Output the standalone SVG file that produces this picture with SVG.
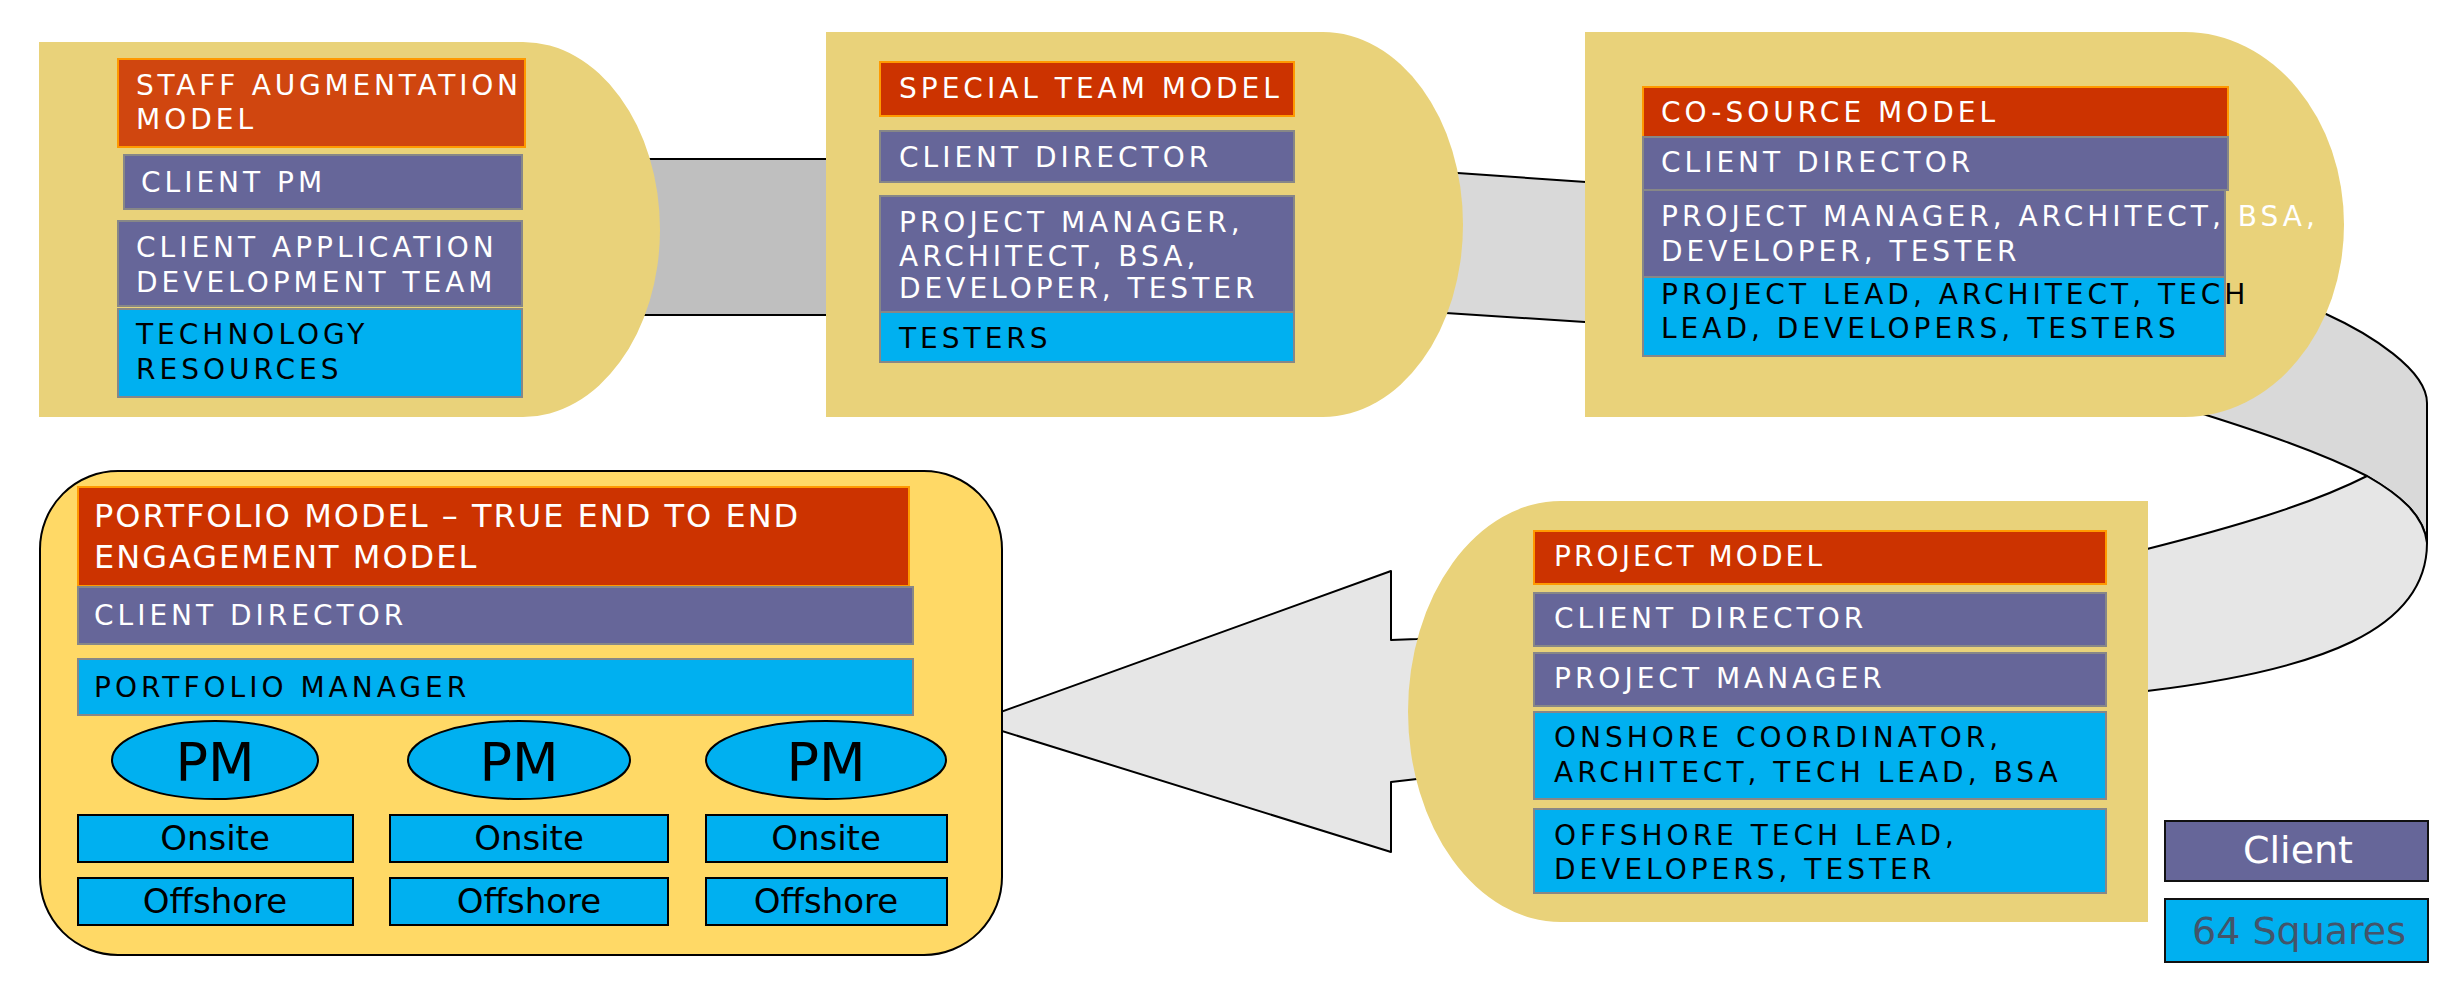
<svg xmlns="http://www.w3.org/2000/svg" width="2459" height="998" viewBox="0 0 2459 998">
<style>
.bg{fill:#E9D27A}
.red{fill:#CC3300;stroke:#FF9900;stroke-width:2}
.red1{fill:#D0460F;stroke:#FF9900;stroke-width:2}
.pur{fill:#666699;stroke:#878787;stroke-width:2}
.blu{fill:#00B0F0;stroke:#878787;stroke-width:2}
.bk{fill:#00B0F0;stroke:#000;stroke-width:2}
.band{stroke:#000;stroke-width:2;stroke-linejoin:round}
.t{font-family:"DejaVu Sans",Verdana,sans-serif;font-size:28px;letter-spacing:4px}
.w{fill:#FFFFFF}
.k{fill:#000000}
.c{font-family:"DejaVu Sans",Verdana,sans-serif;text-anchor:middle;fill:#000}
</style>
<rect width="2459" height="998" fill="#FFFFFF"/>
<g id="connectors">
<path class="band" fill="#BFBFBF" d="M600 159 H870 V315 H600 Z"/>
<path class="band" fill="#D9D9D9" d="M1400 169 L1586 182 C1900 200 2200 240 2326 314 C2370 334 2427 370 2427 403 L2427 543 C2424 515 2400 495 2367 476 C2320 452 2260 432 2203 414 L1600 323 L1400 310 Z"/>
<path class="band" fill="#E6E6E6" d="M2367 476 C2400 495 2424 515 2427 543 C2427 630 2320 670 2147 691 L1417 779 L1391 782 L1391 852 L973 722 L1391 571 L1391 640 L1417 639 L2147 549 C2230 528 2310 505 2367 476 Z"/>
</g>
<g id="staff-augmentation">
<path class="bg" d="M39 42 H523 A137 187.5 0 0 1 523 417 H39 Z"/>
<rect class="red1" x="118" y="59" width="407" height="88"/>
<text class="t w" x="136" y="95" textLength="386" lengthAdjust="spacing">STAFF AUGMENTATION</text>
<text class="t w" x="136" y="129">MODEL</text>
<rect class="pur" x="124" y="155" width="398" height="54"/>
<text class="t w" x="141" y="192">CLIENT PM</text>
<rect class="pur" x="118" y="221" width="404" height="85"/>
<text class="t w" x="136" y="257">CLIENT APPLICATION</text>
<text class="t w" x="136" y="292">DEVELOPMENT TEAM</text>
<rect class="blu" x="118" y="309" width="404" height="88"/>
<text class="t k" x="136" y="344">TECHNOLOGY</text>
<text class="t k" x="136" y="379">RESOURCES</text>
</g>
<g id="special-team">
<path class="bg" d="M826 32 H1323 A140 192.5 0 0 1 1323 417 H826 Z"/>
<rect class="red" x="880" y="62" width="414" height="54"/>
<text class="t w" x="899" y="98">SPECIAL TEAM MODEL</text>
<rect class="pur" x="880" y="131" width="414" height="51"/>
<text class="t w" x="899" y="167">CLIENT DIRECTOR</text>
<rect class="pur" x="880" y="196" width="414" height="116"/>
<text class="t w" x="899" y="232">PROJECT MANAGER,</text>
<text class="t w" x="899" y="266">ARCHITECT, BSA,</text>
<text class="t w" x="899" y="298">DEVELOPER, TESTER</text>
<rect class="blu" x="880" y="312" width="414" height="50"/>
<text class="t k" x="899" y="348">TESTERS</text>
</g>
<g id="co-source">
<path class="bg" d="M1585 32 H2185 A159 192.5 0 0 1 2185 417 H1585 Z"/>
<rect class="red" x="1643" y="87" width="585" height="50"/>
<text class="t w" x="1661" y="122">CO-SOURCE MODEL</text>
<rect class="pur" x="1643" y="137" width="585" height="53"/>
<text class="t w" x="1661" y="172">CLIENT DIRECTOR</text>
<rect class="pur" x="1643" y="190" width="582" height="87"/>
<text class="t w" x="1661" y="226">PROJECT MANAGER, ARCHITECT, BSA,</text>
<text class="t w" x="1661" y="261">DEVELOPER, TESTER</text>
<rect class="blu" x="1643" y="277" width="582" height="79"/>
<text class="t k" x="1661" y="304">PROJECT LEAD, ARCHITECT, TECH</text>
<text class="t k" x="1661" y="338">LEAD, DEVELOPERS, TESTERS</text>
</g>
<g id="project-model">
<path class="bg" d="M2148 501 H1561 A153 210.5 0 0 0 1561 922 H2148 Z"/>
<rect class="red" x="1534" y="531" width="572" height="53"/>
<text class="t w" x="1554" y="566" textLength="272" lengthAdjust="spacing">PROJECT MODEL</text>
<rect class="pur" x="1534" y="593" width="572" height="53"/>
<text class="t w" x="1554" y="628">CLIENT DIRECTOR</text>
<rect class="pur" x="1534" y="653" width="572" height="53"/>
<text class="t w" x="1554" y="688">PROJECT MANAGER</text>
<rect class="blu" x="1534" y="712" width="572" height="87"/>
<text class="t k" x="1554" y="747">ONSHORE COORDINATOR,</text>
<text class="t k" x="1554" y="782">ARCHITECT, TECH LEAD, BSA</text>
<rect class="blu" x="1534" y="809" width="572" height="84"/>
<text class="t k" x="1554" y="845">OFFSHORE TECH LEAD,</text>
<text class="t k" x="1554" y="879">DEVELOPERS, TESTER</text>
</g>
<g id="portfolio-model">
<rect x="40" y="471" width="962" height="484" rx="78" ry="78" fill="#FFD966" stroke="#000" stroke-width="2"/>
<rect class="red" x="78" y="487" width="831" height="99"/>
<text class="w" font-family="DejaVu Sans,Verdana,sans-serif" font-size="32" letter-spacing="2" x="94" y="527">PORTFOLIO MODEL – TRUE END TO END</text>
<text class="w" font-family="DejaVu Sans,Verdana,sans-serif" font-size="32" letter-spacing="2" x="94" y="568">ENGAGEMENT MODEL</text>
<rect class="pur" x="78" y="587" width="835" height="57"/>
<text class="t w" x="94" y="625">CLIENT DIRECTOR</text>
<rect class="blu" x="78" y="659" width="835" height="56"/>
<text class="t k" x="94" y="697">PORTFOLIO MANAGER</text>
<ellipse class="bk" cx="215" cy="760" rx="103" ry="39"/>
<ellipse class="bk" cx="519" cy="760" rx="111" ry="39"/>
<ellipse class="bk" cx="826" cy="760" rx="120" ry="39"/>
<text class="c" font-size="54" x="215" y="781">PM</text>
<text class="c" font-size="54" x="519" y="781">PM</text>
<text class="c" font-size="54" x="826" y="781">PM</text>
<rect class="bk" x="78" y="815" width="275" height="47"/>
<rect class="bk" x="390" y="815" width="278" height="47"/>
<rect class="bk" x="706" y="815" width="241" height="47"/>
<text class="c" font-size="34" x="215" y="850">Onsite</text>
<text class="c" font-size="34" x="529" y="850">Onsite</text>
<text class="c" font-size="34" x="826" y="850">Onsite</text>
<rect class="bk" x="78" y="878" width="275" height="47"/>
<rect class="bk" x="390" y="878" width="278" height="47"/>
<rect class="bk" x="706" y="878" width="241" height="47"/>
<text class="c" font-size="34" x="215" y="913">Offshore</text>
<text class="c" font-size="34" x="529" y="913">Offshore</text>
<text class="c" font-size="34" x="826" y="913">Offshore</text>
</g>
<g id="legend">
<rect x="2165" y="821" width="263" height="60" fill="#666699" stroke="#111" stroke-width="2"/>
<text x="2298" y="863" font-family="DejaVu Sans,Verdana,sans-serif" font-size="38" text-anchor="middle" fill="#FFFFFF">Client</text>
<rect x="2165" y="899" width="263" height="63" fill="#00B0F0" stroke="#111" stroke-width="2"/>
<text x="2192" y="944" font-family="DejaVu Sans,Verdana,sans-serif" font-size="38" fill="#44546A">64 Squares</text>
</g>
</svg>
